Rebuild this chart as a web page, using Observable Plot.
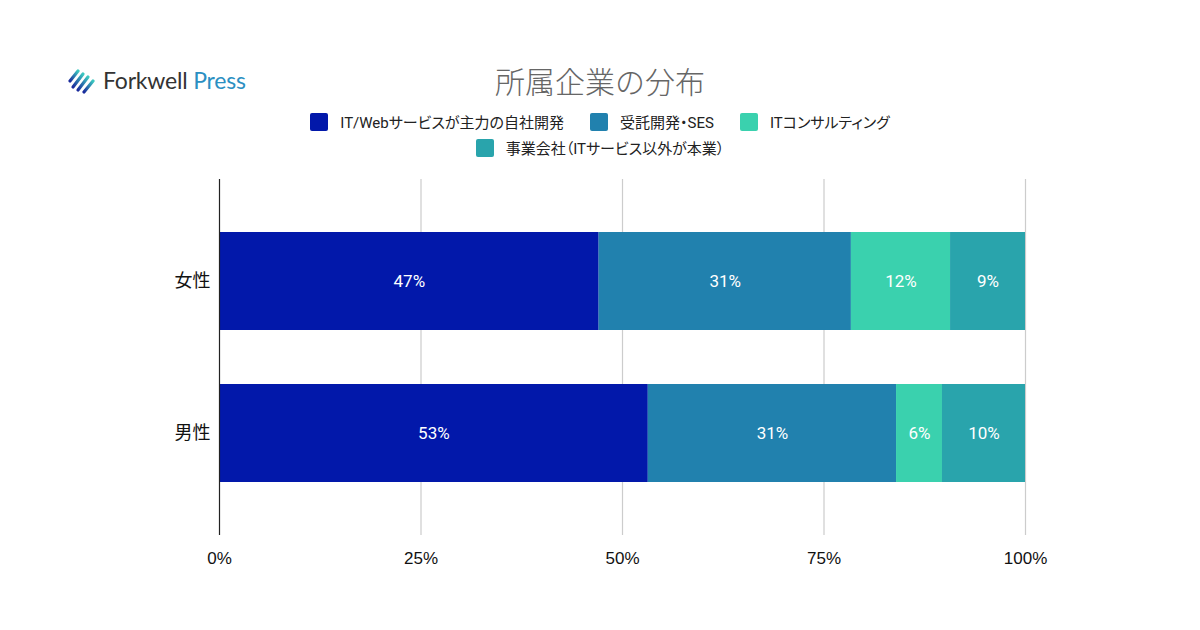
<!DOCTYPE html>
<html><head><meta charset="utf-8">
<script src="https://cdn.jsdelivr.net/npm/d3@7"></script>
<script src="https://cdn.jsdelivr.net/npm/@observablehq/plot@0.6"></script>
<style>
html,body{margin:0;padding:0;background:#fff;}
#root{position:relative;width:1200px;height:630px;overflow:hidden;font-family:Roboto,"Noto Sans CJK JP",sans-serif;}
#logo{position:absolute;left:68px;top:66px;display:flex;align-items:center;}
#logo .t{font-family:Lato,"Noto Sans",sans-serif;font-size:23px;margin-left:7px;letter-spacing:-0.2px;}
#title{position:absolute;left:0;width:1200px;top:58px;text-align:center;font-family:"Noto Sans CJK JP",sans-serif;font-weight:300;font-size:30px;color:#666;}
.legrow{position:absolute;left:0;width:1200px;display:flex;justify-content:center;font-family:Roboto,"Noto Sans CJK JP",sans-serif;font-feature-settings:"palt";font-size:15px;color:#222;}
.item{display:flex;align-items:center;margin:0 13px;}
.sw{width:18px;height:18px;border-radius:2px;margin-right:12px;}
#chart{position:absolute;left:0;top:160px;}
</style></head>
<body><div id="root">
<div id="logo">
<svg width="28" height="28" viewBox="0 0 28 28">
<defs><linearGradient id="lg" x1="0" y1="1" x2="1" y2="0"><stop offset="0" stop-color="#1a2a9c"/><stop offset="1" stop-color="#3cc8c0"/></linearGradient></defs>
<g stroke="url(#lg)" stroke-width="3.2" stroke-linecap="round">
<line x1="2" y1="15" x2="10" y2="5"/><line x1="5" y1="21" x2="15" y2="8"/><line x1="10" y1="24" x2="20" y2="11"/><line x1="16" y1="26" x2="25" y2="15"/>
</g></svg>
<span class="t"><span style="color:#333">Forkwell</span> <span style="color:#2b8fc2">Press</span></span>
</div>
<div id="title">所属企業の分布</div>
<div class="legrow" id="leg1" style="top:111px"></div>
<div class="legrow" id="leg2" style="top:137px"></div>
<div id="chart"></div>
</div>
<script>
const genders = ["女性", "男性"];
const categories = ["IT/Webサービスが主力の自社開発", "受託開発・SES", "ITコンサルティング", "事業会社（ITサービス以外が本業）"];
const colors = ["#0218aa", "#2181ae", "#3ad1ae", "#29a4ac"];
const femaleValues = [47.1, 31.3, 12.3, 9.3];
const maleValues = [53.2, 30.8, 5.7, 10.3];
const xTicks = [0, 25, 50, 75, 100];

const data = [];
[femaleValues, maleValues].forEach((vals, gi) => {
  vals.forEach((v, ci) => data.push({gender: genders[gi], category: categories[ci], value: v}));
});

// legend
const legRows = [[0,1,2],[3]];
legRows.forEach((row, ri) => {
  const el = document.getElementById(ri === 0 ? "leg1" : "leg2");
  row.forEach(ci => {
    const it = document.createElement("div");
    it.className = "item";
    it.innerHTML = `<div class="sw" style="background:${colors[ci]}"></div><span>${categories[ci]}</span>`;
    el.appendChild(it);
  });
});

const chart = Plot.plot({
  width: 1200,
  height: 415,
  marginLeft: 219,
  marginRight: 175,
  marginTop: 19,
  marginBottom: 40,
  style: {fontFamily: 'Roboto,"Noto Sans CJK JP",sans-serif', fontSize: "16px", color: "#222", background: "transparent"},
  x: {domain: [0, 100], label: null},
  y: {domain: genders, label: null, paddingInner: 0.353, paddingOuter: 0.34},
  color: {domain: categories, range: colors},
  marks: [
    Plot.ruleX(xTicks.filter(d => d > 0), {stroke: "#ccc", strokeWidth: 1.2}),
    Plot.barX(data, Plot.stackX({x: "value", y: "gender", fill: "category", order: null})),
    Plot.textX(data, Plot.stackX({x: "value", y: "gender", z: "category", order: null, text: d => Math.round(d.value) + "%", fill: "white", fontSize: 17})),
    Plot.ruleX([0], {stroke: "#222", strokeWidth: 1.2}),
    Plot.axisX({ticks: xTicks, tickFormat: d => d + "%", tickSize: 0, tickPadding: 16, fontSize: 17, fontFamily: '"Liberation Sans",Arial,sans-serif', fill: "#111"}),
    Plot.axisY({tickSize: 0, tickPadding: 9, fontSize: 18, fontFamily: '"Noto Sans CJK JP",sans-serif', fill: "#111"})
  ]
});
document.getElementById("chart").appendChild(chart);
</script>
</body></html>
